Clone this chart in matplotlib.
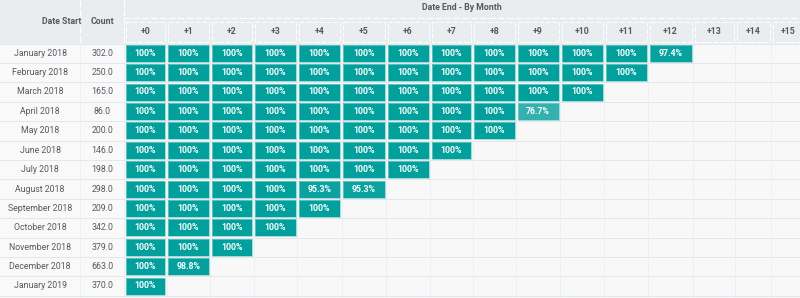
import matplotlib
matplotlib.use('Agg')
from matplotlib.pyplot import figure
from matplotlib.patches import Rectangle

# data
date_start = ['January 2018', 'February 2018', 'March 2018', 'April 2018', 'May 2018',
              'June 2018', 'July 2018', 'August 2018', 'September 2018', 'October 2018',
              'November 2018', 'December 2018', 'January 2019']
counts = [302.0, 250.0, 165.0, 86.0, 200.0, 146.0, 198.0, 298.0, 209.0, 342.0, 379.0, 663.0, 370.0]
periods = ['+0', '+1', '+2', '+3', '+4', '+5', '+6', '+7', '+8', '+9', '+10', '+11', '+12', '+13', '+14', '+15']
retention = [
    [100]*12 + [97.4],
    [100]*12,
    [100]*11,
    [100]*9 + [76.7],
    [100]*9,
    [100]*8,
    [100]*7,
    [100]*4 + [95.3, 95.3],
    [100]*5,
    [100]*4,
    [100]*3,
    [100, 98.8],
    [100],
]
header_title = 'Date End - By Month'

# layout (pixels)
col_edges = [124, 166.5, 210, 253.5, 297, 341.5, 386, 430, 472.5, 516, 560, 604, 648, 693, 735, 771, 806]
row_top, row_h = 43.5, 19.4
teal = '#00A09D'
txt = '#555a60'

fg = figure(figsize=(8, 2.98), dpi=100)
ax = fg.add_axes([0, 0, 1, 1])
ax.set_xlim(0, 800)
ax.set_ylim(298, 0)
ax.axis('off')

# backgrounds
ax.add_patch(Rectangle((0, 0), 800, row_top, color='#eaedf0', zorder=0))
ax.add_patch(Rectangle((0, row_top), 800, 298 - row_top, color='#f8f8f8', zorder=0))
ax.add_patch(Rectangle((0, row_top), 124, 298 - row_top, color='#f9f9fa', zorder=0))

# header
ax.text(62, 21, 'Date Start', ha='center', va='center', fontsize=6.3, fontweight='bold', color=txt)
ax.text(102, 21, 'Count', ha='center', va='center', fontsize=6.3, fontweight='bold', color=txt)
ax.text(462, 8, header_title, ha='center', va='center', fontsize=6.3, fontweight='bold', color=txt)
ax.plot([80, 80], [0, 298], color='white', lw=0.8, ls=(0, (6, 2)), zorder=1)
ax.plot([124, 124], [0, 298], color='white', lw=0.8, ls=(0, (6, 2)), zorder=1)
ax.plot([124, 800], [18, 18], color='white', lw=0.8, ls=(0, (6, 2)), zorder=1)
for j, p in enumerate(periods):
    x0, x1 = col_edges[j], col_edges[j + 1]
    ax.add_patch(Rectangle((x0 + 1.5, 21.5), x1 - x0 - 3, 20, fill=False,
                           ec='white', lw=0.7, ls=(0, (5, 2)), zorder=1))
    ax.text((x0 + x1) / 2, 32, p, ha='center', va='center', fontsize=6.3,
            fontweight='bold', color=txt)

# grid lines in the body
for i in range(len(date_start) + 1):
    y = row_top + i * row_h
    ax.plot([0, 800], [y, y], color='#e4e7ea', lw=0.7, zorder=1)
for x in [80, 124] + col_edges[1:-1]:
    ax.plot([x, x], [row_top, 298], color='#eceef0', lw=0.6, zorder=1)

# rows
for i, (name, c, vals) in enumerate(zip(date_start, counts, retention)):
    yc = row_top + (i + 0.5) * row_h
    ax.text(40, yc, name, ha='center', va='center', fontsize=6.3, color=txt)
    ax.text(102, yc, f'{c:.1f}', ha='center', va='center', fontsize=6.3, color=txt)
    for j, v in enumerate(vals):
        x0, x1 = col_edges[j], col_edges[j + 1]
        alpha = 1.0 - (100 - v) * 0.0085
        ax.add_patch(Rectangle((x0 + 1.5, yc - row_h / 2 + 1.2), x1 - x0 - 3, row_h - 2.4,
                               fc=teal, alpha=alpha, ec='none', zorder=2))
        ax.add_patch(Rectangle((x0 + 1.5, yc - row_h / 2 + 1.2), x1 - x0 - 3, row_h - 2.4,
                               fill=False, ec='#7fcfcd', lw=0.5, zorder=3))
        lab = '100%' if v == 100 else f'{v}%'
        ax.text((x0 + x1) / 2, yc, lab, ha='center', va='center', fontsize=6.3,
                color='white', fontweight='bold', zorder=4)

for t in ax.texts:
    t.set_family(['Roboto', 'DejaVu Sans'])

fg.savefig('out.png', dpi=100)
